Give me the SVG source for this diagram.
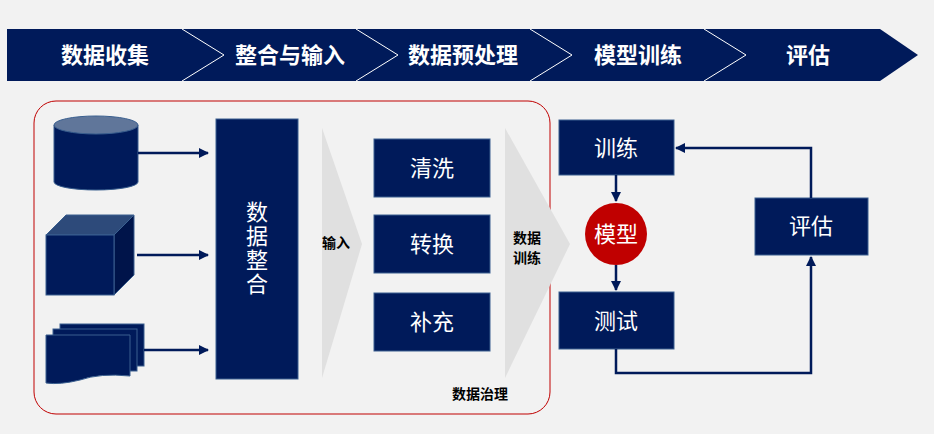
<svg xmlns="http://www.w3.org/2000/svg" width="934" height="434" viewBox="0 0 934 434">
<defs>
<style>
.n{fill:#001a5a;stroke:#3a5f8f;stroke-width:1}
.t{font-family:"Noto Sans CJK SC",sans-serif;fill:#fff;font-size:22px;text-anchor:middle}
.b{font-family:"Noto Sans CJK SC",sans-serif;fill:#fff;font-size:22px;font-weight:bold;text-anchor:middle}
.k{font-family:"Noto Sans CJK SC",sans-serif;fill:#000;font-size:14px;font-weight:bold;text-anchor:middle}
.c{stroke:#001a5a;stroke-width:2.5;fill:none}
</style>
<marker id="a" viewBox="0 0 10 10" refX="9" refY="5" markerWidth="4" markerHeight="4" orient="auto"><path d="M0,0L10,5L0,10z" fill="#001a5a"/></marker>
</defs>
<rect width="934" height="434" fill="#f2f2f2"/>
<g id="banner">
<path d="M7,29H880L918,55L880,81H7z" fill="#001a5a"/>
<g stroke="#fff" stroke-width="1" fill="none">
<path d="M182,29L224,55L182,81"/><path d="M356,29L398,55L356,81"/><path d="M530,29L572,55L530,81"/><path d="M704,29L746,55L704,81"/>
</g>
<text class="b" x="105" y="63">数据收集</text>
<text class="b" x="290" y="63">整合与输入</text>
<text class="b" x="463" y="63">数据预处理</text>
<text class="b" x="638" y="63">模型训练</text>
<text class="b" x="808" y="63">评估</text>
</g>
<rect x="34" y="101" width="516" height="313" rx="22" fill="#f2f2f2" stroke="#c00000" stroke-width="1"/>
<path d="M322,128L362,244L322,378z" fill="#e0e0e0"/>
<path d="M505,128L570,244L505,378z" fill="#e0e0e0"/>
<g id="db"><path d="M54,125V182A42,8 0 0 0 138,182V125z" class="n"/><ellipse cx="96" cy="125" rx="42" ry="9" fill="#60769a" stroke="#3a5f8f"/></g>
<g id="cube"><path d="M46,235L66,215H134L114,235z" fill="#2d4a7a" stroke="#3a5f8f"/><path d="M114,235L134,215V275L114,295z" fill="#00144a" stroke="#3a5f8f"/><rect x="46" y="235" width="68" height="60" class="n"/></g>
<g id="docs"><rect x="60" y="324" width="84" height="42" class="n"/><rect x="53" y="329" width="84" height="42" class="n"/><path d="M46,335H130V376Q100,373 80,380Q60,385 46,383z" class="n"/></g>
<g id="integ"><rect x="216" y="119" width="82" height="260" class="n"/><text class="t" x="257" y="201" style="writing-mode:vertical-rl;text-anchor:start" letter-spacing="2">数据整合</text></g>
<g id="clean"><rect x="374" y="139" width="116" height="58" class="n"/><text class="t" x="432" y="176">清洗</text></g>
<g id="conv"><rect x="374" y="215" width="116" height="58" class="n"/><text class="t" x="432" y="252">转换</text></g>
<g id="supp"><rect x="374" y="293" width="116" height="58" class="n"/><text class="t" x="432" y="330">补充</text></g>
<g id="train"><rect x="559" y="120" width="115" height="55" class="n"/><text class="t" x="616" y="156">训练</text></g>
<g id="model"><circle cx="616" cy="234" r="31" fill="#c00000"/><text class="t" x="616" y="242">模型</text></g>
<g id="test"><rect x="559" y="292" width="115" height="57" class="n"/><text class="t" x="616" y="329">测试</text></g>
<g id="eval"><rect x="755" y="198" width="113" height="57" class="n"/><text class="t" x="811" y="234">评估</text></g>
<text class="k" x="336" y="248">输入</text>
<text class="k" x="527" y="243">数据</text><text class="k" x="527" y="263">训练</text>
<text class="k" x="480" y="399" font-size="16">数据治理</text>
<g id="connectors">
<path class="c" d="M138,153H208" marker-end="url(#a)"/>
<path class="c" d="M137,255H208" marker-end="url(#a)"/>
<path class="c" d="M144,350H208" marker-end="url(#a)"/>
<path class="c" d="M616,175V201" marker-end="url(#a)"/>
<path class="c" d="M616,265V290" marker-end="url(#a)"/>
<path class="c" d="M616,349V373H811V257" marker-end="url(#a)"/>
<path class="c" d="M811,198V148H676" marker-end="url(#a)"/>
</g>
</svg>
